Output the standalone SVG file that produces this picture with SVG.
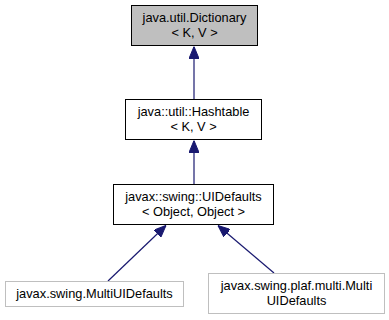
<svg xmlns="http://www.w3.org/2000/svg" width="389" height="320" viewBox="0 0 389 320">
  <style>
    text { font-family: "Liberation Sans", Arial, sans-serif; font-size: 12.8px; fill: #000; text-anchor: middle; }
    .box { fill: #fff; stroke: #000; stroke-width: 1; }
    .base { fill: #bfbfbf; stroke: #000; stroke-width: 1; }
    .ext { fill: #fff; stroke: #bfbfbf; stroke-width: 1; }
    .edge { stroke: #191970; stroke-width: 1.2; fill: none; }
  </style>
  <defs>
    <marker id="inherit" viewBox="0 0 12 10" refX="12" refY="5" markerWidth="12" markerHeight="10" markerUnits="userSpaceOnUse" orient="auto">
      <path d="M0,0 L12,5 L0,10 Z" fill="#191970" stroke="#191970"/>
    </marker>
  </defs>

  <g id="connectors">
    <line class="edge" x1="194" y1="99" x2="194" y2="46.5" marker-end="url(#inherit)"/>
    <line class="edge" x1="194" y1="184" x2="194" y2="140.5" marker-end="url(#inherit)"/>
    <line class="edge" x1="108" y1="281" x2="166" y2="225.5" marker-end="url(#inherit)"/>
    <line class="edge" x1="274" y1="273" x2="218" y2="225.5" marker-end="url(#inherit)"/>
  </g>

  <g id="dictionary">
    <rect class="base" x="131.5" y="5.5" width="126" height="40"/>
    <text x="194.5" y="22">java.util.Dictionary</text>
    <text x="194.5" y="37">&lt; K, V &gt;</text>
  </g>

  <g id="hashtable">
    <rect class="box" x="125.5" y="99.5" width="136" height="40"/>
    <text x="193.5" y="116">java::util::Hashtable</text>
    <text x="193.5" y="131">&lt; K, V &gt;</text>
  </g>

  <g id="uidefaults">
    <rect class="box" x="113.5" y="184.5" width="160" height="40"/>
    <text x="193.5" y="201">javax::swing::UIDefaults</text>
    <text x="193.5" y="216">&lt; Object, Object &gt;</text>
  </g>

  <g id="multiuidefaults">
    <rect class="ext" x="5.5" y="281.5" width="178" height="25"/>
    <text x="94.5" y="298">javax.swing.MultiUIDefaults</text>
  </g>

  <g id="plafmultiuidefaults">
    <rect class="ext" x="208.5" y="273.5" width="176" height="40"/>
    <text x="296.5" y="290">javax.swing.plaf.multi.Multi</text>
    <text x="296.5" y="305">UIDefaults</text>
  </g>
</svg>
